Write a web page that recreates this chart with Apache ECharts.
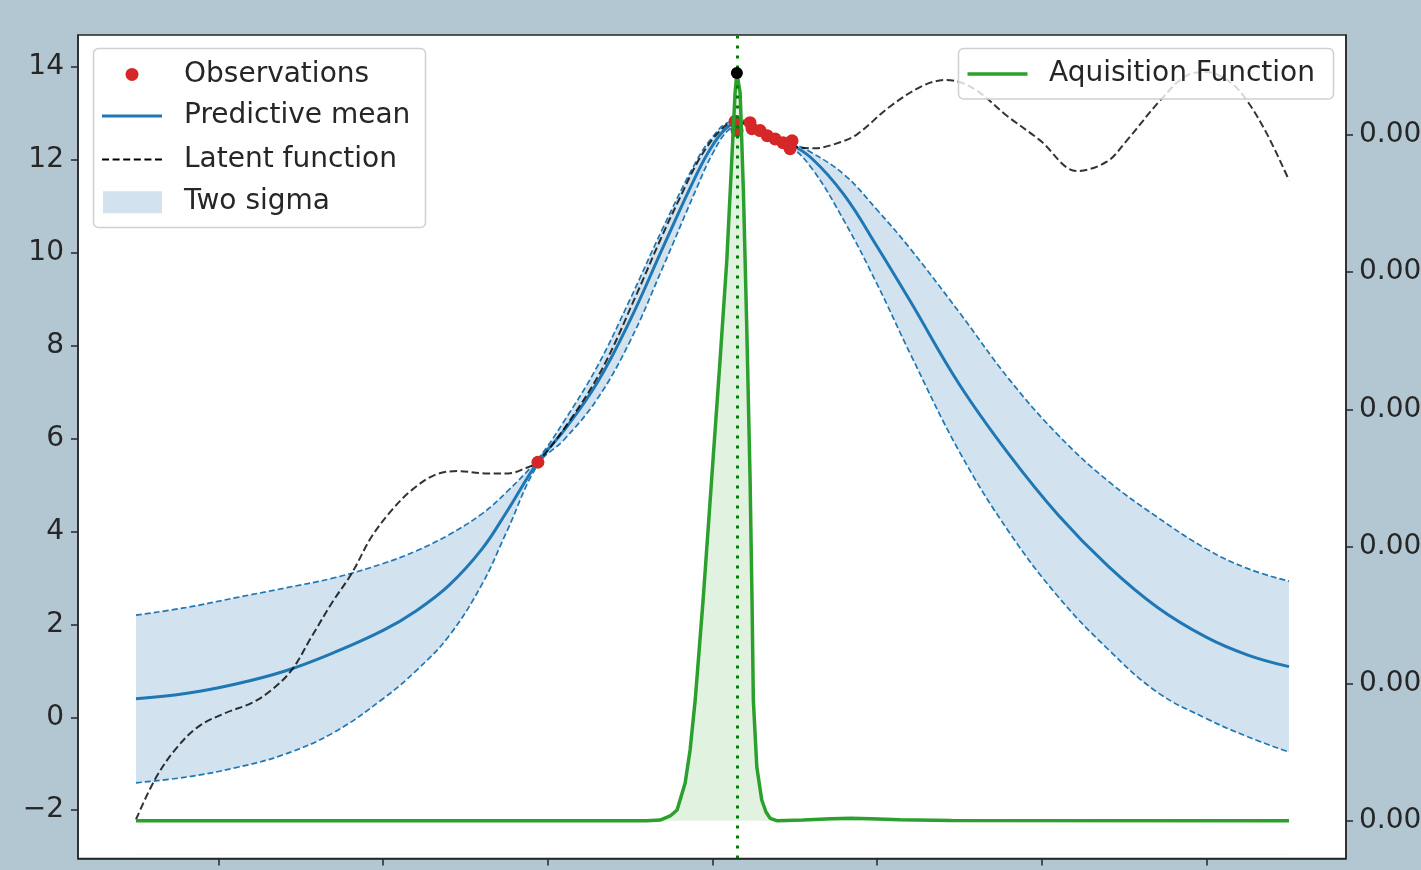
<!DOCTYPE html>
<html>
<head>
<meta charset="utf-8">
<script src="https://cdn.jsdelivr.net/npm/echarts@6/dist/echarts.min.js"></script>
<style>
  html, body { margin: 0; padding: 0; background: #b3c7d3; }
  #chart { width: 1421px; height: 870px; }
</style>
</head>
<body>
<div id="chart"></div>
<script>
// ---------------- data ----------------
const gridX = [-0.5, -0.2, 0.1, 0.4, 0.7, 1.0, 1.2, 1.4, 1.6, 1.75, 1.94, 2.1, 2.3, 2.5, 2.7, 2.9, 3.0, 3.1, 3.2, 3.3, 3.45, 3.6, 3.8, 4.0, 4.2, 4.5, 4.8, 5.1, 5.4, 5.7, 6.0, 6.25, 6.5];
const meanY = [0.40, 0.51, 0.71, 0.99, 1.39, 1.87, 2.29, 2.84, 3.62, 4.42, 5.50, 6.18, 7.20, 8.55, 10.12, 11.66, 12.31, 12.73, 12.81, 12.59, 12.38, 12.04, 11.24, 10.13, 8.96, 7.16, 5.66, 4.35, 3.26, 2.37, 1.72, 1.34, 1.09];
const upperY = [2.20, 2.36, 2.57, 2.78, 3.00, 3.31, 3.58, 3.93, 4.38, 4.85, 5.56, 6.38, 7.55, 9.00, 10.54, 11.96, 12.49, 12.81, 12.85, 12.62, 12.41, 12.16, 11.68, 10.92, 10.09, 8.71, 7.28, 6.07, 5.09, 4.31, 3.62, 3.20, 2.93];
const lowerY = [-1.41, -1.29, -1.09, -0.80, -0.33, 0.40, 1.00, 1.75, 2.86, 3.99, 5.44, 5.98, 6.85, 8.10, 9.70, 11.36, 12.13, 12.65, 12.77, 12.56, 12.35, 11.83, 10.68, 9.32, 7.83, 5.71, 3.99, 2.59, 1.47, 0.54, -0.03, -0.42, -0.75];

const latentX = [-0.5, -0.385, -0.263, -0.121, 0.041, 0.203, 0.324, 0.446, 0.567, 0.689, 0.810, 0.931, 1.053, 1.174, 1.316, 1.457, 1.619, 1.761, 1.862, 1.94, 2.136, 2.336, 2.542, 2.682, 2.803, 2.925, 3.046, 3.125, 3.228, 3.289, 3.471, 3.62, 3.775, 3.878, 4.078, 4.279, 4.422, 4.584, 4.787, 4.989, 5.212, 5.394, 5.516, 5.718, 5.880, 6.001, 6.143, 6.244, 6.366, 6.5];
const latentY = [-2.20, -1.34, -0.70, -0.20, 0.09, 0.31, 0.59, 1.02, 1.74, 2.46, 3.10, 3.89, 4.46, 4.89, 5.22, 5.30, 5.25, 5.25, 5.36, 5.50, 6.40, 7.54, 9.13, 10.27, 11.19, 12.05, 12.63, 12.81, 12.78, 12.63, 12.31, 12.25, 12.38, 12.55, 13.15, 13.60, 13.72, 13.54, 12.95, 12.42, 11.76, 11.96, 12.42, 13.28, 13.82, 13.89, 13.67, 13.28, 12.56, 11.56];

const obsX = [1.94, 3.137, 3.149, 3.228, 3.240, 3.289, 3.332, 3.380, 3.428, 3.483, 3.471];
const obsY = [5.49, 12.83, 12.63, 12.80, 12.67, 12.63, 12.52, 12.45, 12.37, 12.41, 12.24];

const acqX = [-0.5, 2.6, 2.682, 2.743, 2.785, 2.834, 2.864, 2.895, 2.943, 2.996, 3.046, 3.087, 3.117, 3.137, 3.148, 3.168, 3.188, 3.208, 3.228, 3.240, 3.248, 3.269, 3.299, 3.325, 3.350, 3.390, 3.55, 3.72, 3.84, 3.96, 4.14, 4.45, 6.5];
const acqY = [0, 0, 0.000001, 0.0000069, 0.0000156, 0.000055, 0.0001031, 0.000176, 0.0003219, 0.0005017, 0.0006719, 0.0008177, 0.0009636, 0.0010613, 0.0010904, 0.0010613, 0.0009154, 0.00072, 0.0005012, 0.0003219, 0.000176, 0.0000783, 0.0000302, 0.0000127, 0.0000035, 0, 0.000001, 0.000003, 0.0000035, 0.000003, 0.0000015, 0.0000003, 0];

const nextX = 3.148;        // proposed next query point
const nextAcq = 0.0010904;  // acquisition maximum

const xTicks = [0, 1, 2, 3, 4, 5, 6];
const yTicks = [-2, 0, 2, 4, 6, 8, 10, 12, 14];
const acqTicks = [0, 0.0002, 0.0004, 0.0006, 0.0008, 0.001];

// ---------------- chart ----------------
const FONT = 'DejaVu Sans';
const INK = '#262626';
const BLUE = '#1f77b4';
const BAND = '#d2e3ef';
const Y_MIN = -3.04, Y_MAX = 14.688;
const FILL_BASE = -2.95;   // band fill reaches down to here (just above the bottom spine)
const zip = (a, b) => a.map((v, i) => [v, b[i]]);

function oneLegend(left, top, w, h, padLeft, item) {
  return {
    left: left, top: top, padding: 0, itemWidth: w, itemHeight: h, itemGap: 0,
    symbolKeepAspect: false, selectedMode: false, z: 20,
    textStyle: { fontFamily: FONT, fontSize: 28, color: INK, lineHeight: 28, padding: [0, 0, 0, padLeft] },
    data: [item]
  };
}
const dashIcon = 'path://M0,0h7v2h-7zM10.6,0h7v2h-7zM21.2,0h7v2h-7zM31.8,0h7v2h-7zM42.4,0h7v2h-7zM53,0h7v2h-7z';

const axisLineStyle = { color: INK, width: 1.5 };
const bandEdge = { color: BLUE, width: 1.7, type: [6, 3] };

const chart = echarts.init(document.getElementById('chart'), null, { renderer: 'canvas' });
chart.setOption({
  animation: false,
  backgroundColor: '#b3c7d3',
  textStyle: { fontFamily: FONT },
  grid: {
    left: 78, top: 35, width: 1268, height: 823.5, show: true, containLabel: false,
    outerBoundsMode: 'none',
    backgroundColor: '#ffffff', borderColor: INK, borderWidth: 1.5
  },
  xAxis: {
    type: 'value', min: -0.852, max: 6.846, z: 6,
    axisLine: { show: true, onZero: false, lineStyle: axisLineStyle },
    axisTick: { show: true, customValues: xTicks, length: 7, lineStyle: axisLineStyle },
    axisLabel: { show: false },
    splitLine: { show: false }
  },
  yAxis: [
    {
      type: 'value', position: 'left', min: Y_MIN, max: Y_MAX, z: 6,
      axisLine: { show: true, onZero: false, lineStyle: axisLineStyle },
      axisTick: { show: true, customValues: yTicks, length: 7, lineStyle: axisLineStyle },
      axisLabel: {
        customValues: yTicks, margin: 14, fontSize: 28, color: INK, fontFamily: FONT, padding: [7, 0, 0, 0],
        formatter: v => (v < 0 ? '\u2212' + Math.abs(v) : String(v))
      },
      splitLine: { show: false }
    },
    {
      type: 'value', position: 'right', min: -0.0000551, max: 0.0011459, z: 6,
      axisLine: { show: true, onZero: false, lineStyle: axisLineStyle },
      axisTick: { show: true, customValues: acqTicks, length: 7, lineStyle: axisLineStyle },
      axisLabel: {
        customValues: acqTicks, margin: 13, fontSize: 28, color: INK, fontFamily: FONT, padding: [7, 0, 0, 0],
        formatter: v => v.toFixed(4)
      },
      splitLine: { show: false }
    }
  ],
  legend: [
    oneLegend(125.5, 60.4, 13, 13, 40.5, { name: 'Observations', icon: 'circle', itemStyle: { color: '#d62728', opacity: 1 } }),
    oneLegend(102, 102.1, 60, 3, 17, { name: 'Predictive mean', icon: 'rect', itemStyle: { color: BLUE } }),
    oneLegend(102, 145.4, 60, 2, 17, { name: 'Latent function', icon: dashIcon, itemStyle: { color: '#000' } }),
    oneLegend(103, 188.2, 59, 22, 17, { name: 'Two sigma', icon: 'rect', itemStyle: { color: BAND } }),
    oneLegend(967.5, 60.1, 60, 3.5, 16.5, { name: 'Aquisition Function', icon: 'rect', itemStyle: { color: '#2ca02c' } })
  ],
  graphic: [
    { type: 'rect', z: 10, silent: true, shape: { x: 93.5, y: 48.5, width: 332, height: 179, r: 5 },
      style: { fill: 'rgba(255,255,255,0.8)', stroke: '#d0d0d0', lineWidth: 1.5 } },
    { type: 'rect', z: 10, silent: true, shape: { x: 958.5, y: 48.5, width: 375, height: 50.5, r: 5 },
      style: { fill: 'rgba(255,255,255,0.8)', stroke: '#d0d0d0', lineWidth: 1.5 } }
  ],
  series: [
    {
      // upper edge of the two-sigma band; filled down toward the axis
      name: 'Two sigma', type: 'line', data: zip(gridX, upperY),
      symbol: 'none', smooth: 0.4, silent: true, z: 1,
      lineStyle: bandEdge,
      areaStyle: { color: BAND, opacity: 1, origin: FILL_BASE }
    },
    {
      // lower edge of the band; white fill below it leaves only the band coloured
      name: 'sigma lower', type: 'line', data: zip(gridX, lowerY),
      symbol: 'none', smooth: 0.4, silent: true, z: 1,
      lineStyle: bandEdge,
      areaStyle: { color: '#ffffff', opacity: 1, origin: FILL_BASE }
    },
    {
      name: 'Predictive mean', type: 'line', data: zip(gridX, meanY),
      symbol: 'none', smooth: 0.4, silent: true, z: 2,
      lineStyle: { color: BLUE, width: 3 }
    },
    {
      name: 'Latent function', type: 'line', data: zip(latentX, latentY),
      symbol: 'none', smooth: 0.35, silent: true, z: 2,
      lineStyle: { color: 'rgba(0,0,0,0.8)', width: 2, type: [7.5, 3.5] }
    },
    {
      name: 'Observations', type: 'scatter', data: zip(obsX, obsY),
      symbolSize: 13, silent: true, z: 2, itemStyle: { color: '#d62728', opacity: 1 }
    },
    {
      name: 'Aquisition Function', type: 'line', yAxisIndex: 1, data: zip(acqX, acqY),
      symbol: 'none', smooth: false, silent: true, z: 3,
      lineStyle: { color: '#2ca02c', width: 3.5 },
      areaStyle: { color: 'rgba(44,160,44,0.2)', origin: 'auto' },
      markLine: {
        silent: true, symbol: ['none', 'none'], label: { show: false },
        lineStyle: { color: '#008000', type: [3, 7], width: 3, cap: 'butt' },
        data: [{ xAxis: nextX }]
      }
    },
    {
      name: 'next point', type: 'scatter', yAxisIndex: 1, data: [[nextX, nextAcq]],
      symbolSize: 12, silent: true, z: 5, itemStyle: { color: '#000', opacity: 1 }
    }
  ]
});
</script>
</body>
</html>
